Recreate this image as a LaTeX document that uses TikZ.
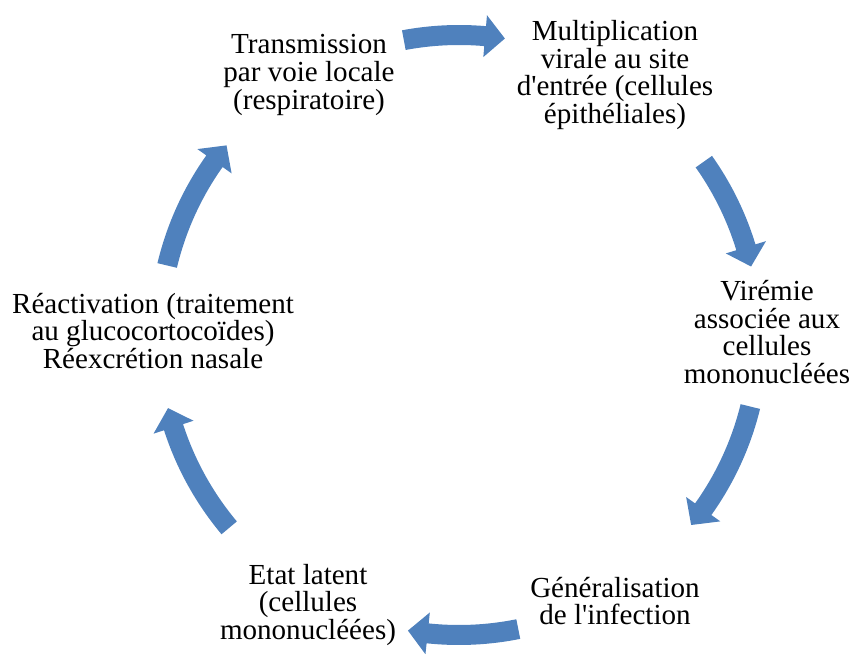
\documentclass[tikz,border=0pt]{standalone}
\usepackage{fontspec}
\setmainfont[Ligatures=TeXOff]{Liberation Serif}
\tikzset{
  cyc/.style={fill=cycblue},
  lbl/.style={align=center, inner sep=0pt, font=\fontsize{21.8}{20.7}\selectfont}
}
\definecolor{cycblue}{HTML}{4F81BD}
\newcommand\cyarrow[2]{%
  \pgfmathsetmacro\hb{#2+3.8}%
  \fill[cyc] (#1:310) arc[start angle=#1, end angle=\hb, radius=310]
    -- (\hb:321) -- (#2:300) -- (\hb:279) -- (\hb:290)
    arc[start angle=\hb, end angle=#1, radius=290] -- cycle;}
\begin{document}
\begin{tikzpicture}[x=0.75pt,y=0.75pt]
\useasboundingbox (0,0) rectangle (851,658);
\begin{scope}[shift={(459,323)}]
  \cyarrow{100.6}{81.2}
  \cyarrow{35.3}{13.2}
  \cyarrow{-13.8}{-39.3}
  \cyarrow{-78.6}{-99.8}
  \cyarrow{220}{194.1}
  \cyarrow{166.6}{140.8}
\end{scope}
\node[lbl] (trans) at (309,583) {Transmission\\par voie locale\\(respiratoire)};
\node[lbl] (mult) at (615,583) {Multiplication\\virale au site\\d'entrée (cellules\\épithéliales)};
\node[lbl] (vir) at (767,326) {Virémie\\associée aux\\cellules\\mononucléées};
\node[lbl] (gen) at (615,57) {Généralisation\\de l'infection};
\node[lbl] (etat) at (308,53) {Etat latent\\(cellules\\mononucléées)};
\node[lbl] (react) at (153,327) {Réactivation (traitement\\au glucocortocoïdes)\\Réexcrétion nasale};
\end{tikzpicture}
\end{document}
